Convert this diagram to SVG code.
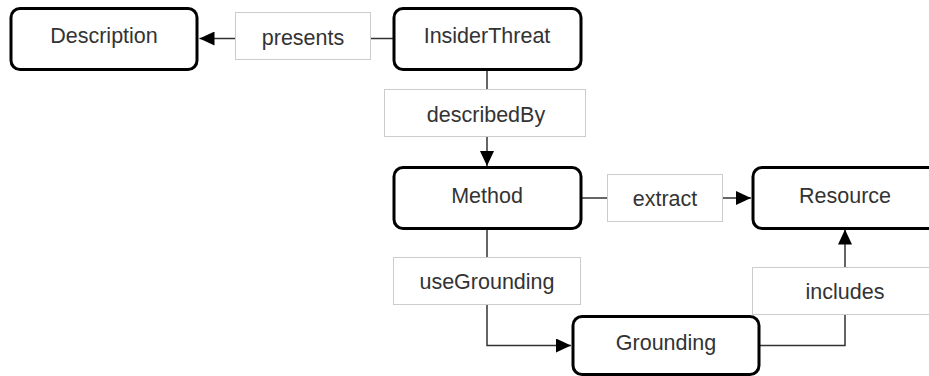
<svg xmlns="http://www.w3.org/2000/svg" width="929" height="376" viewBox="0 0 929 376">
  <style>
    .node rect { fill: #ffffff; stroke: #000000; stroke-width: 3; }
    .label rect { fill: #ffffff; stroke: #cccccc; stroke-width: 1; }
    text { font-family: "Liberation Sans", Arial, sans-serif; font-size: 21.5px; fill: #333333; text-anchor: middle; }
    .edge { fill: none; stroke: #333333; stroke-width: 1.5; }
  </style>
  <defs>
    <marker id="arrow" markerUnits="userSpaceOnUse" markerWidth="16" markerHeight="14" refX="15" refY="7" orient="auto">
      <path d="M0,0 L15,7 L0,14 Z" fill="#000000"/>
    </marker>
  </defs>
  <rect width="929" height="376" fill="#ffffff"/>

  <!-- connectors -->
  <g id="connectors">
    <path class="edge" d="M393,38.5 L199.5,38.5" marker-end="url(#arrow)"/>
    <path class="edge" d="M487,69.5 L487,166" marker-end="url(#arrow)"/>
    <path class="edge" d="M582,198 L751,198" marker-end="url(#arrow)"/>
    <path class="edge" d="M487,229 L487,345.5 L571,345.5" marker-end="url(#arrow)"/>
    <path class="edge" d="M760,345.5 L845,345.5 L845,229.5" marker-end="url(#arrow)"/>

    <g class="label" id="label-presents">
      <rect x="235.5" y="12.5" width="135" height="47"/>
      <text x="303" y="44.5">presents</text>
    </g>
    <g class="label" id="label-describedBy">
      <rect x="384.5" y="89.5" width="201" height="47"/>
      <text x="486" y="121.5">describedBy</text>
    </g>
    <g class="label" id="label-extract">
      <rect x="607.5" y="174.5" width="115" height="47"/>
      <text x="665" y="206">extract</text>
    </g>
    <g class="label" id="label-useGrounding">
      <rect x="393.5" y="257.5" width="187" height="47"/>
      <text x="487" y="288.5">useGrounding</text>
    </g>
    <g class="label" id="label-includes">
      <rect x="752.5" y="267.5" width="190" height="47"/>
      <text x="845" y="298.5">includes</text>
    </g>
  </g>

  <!-- nodes -->
  <g class="node" id="node-description">
    <rect x="11" y="8.5" width="186" height="61" rx="9"/>
    <text x="104" y="43">Description</text>
  </g>
  <g class="node" id="node-insiderthreat">
    <rect x="394" y="8.5" width="187" height="61" rx="9"/>
    <text x="487" y="43">InsiderThreat</text>
  </g>
  <g class="node" id="node-method">
    <rect x="394" y="167.5" width="187" height="61" rx="9"/>
    <text x="487" y="203">Method</text>
  </g>
  <g class="node" id="node-resource">
    <rect x="753" y="167.5" width="187" height="61" rx="9"/>
    <text x="845" y="202.5">Resource</text>
  </g>
  <g class="node" id="node-grounding">
    <rect x="573" y="316.5" width="186" height="58" rx="9"/>
    <text x="666" y="350">Grounding</text>
  </g>
</svg>
